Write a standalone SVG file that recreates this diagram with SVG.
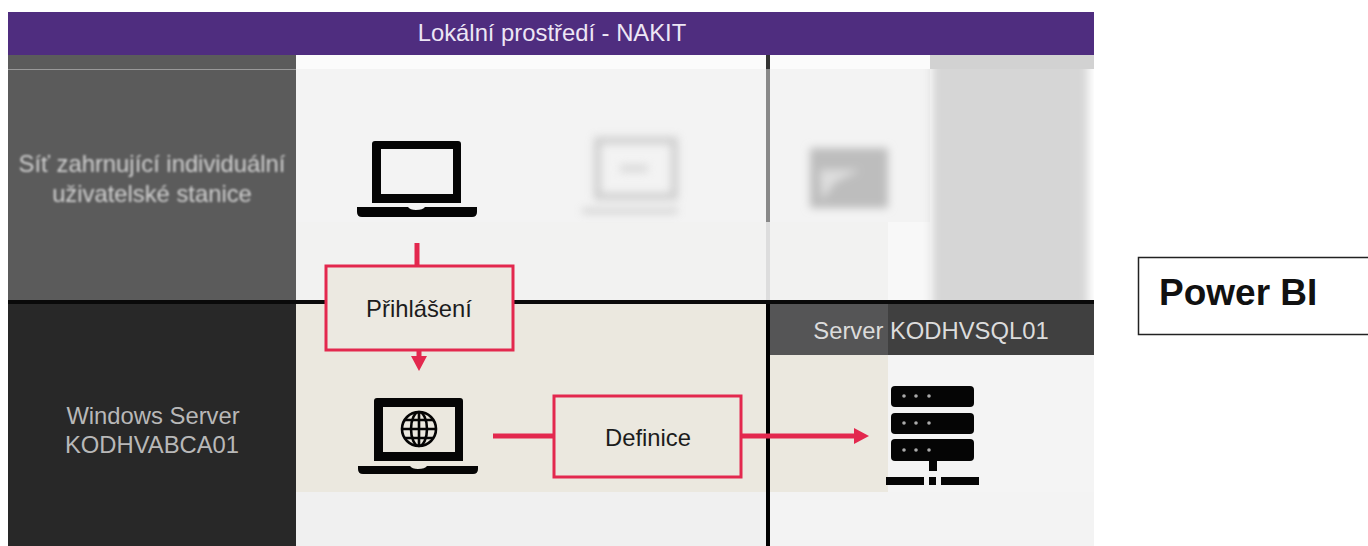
<svg xmlns="http://www.w3.org/2000/svg" width="1368" height="546" viewBox="0 0 1368 546">
<style>
text{font-family:"Liberation Sans",Arial,sans-serif}
.lbl{font-size:23.8px;fill:#1c1c1c;text-anchor:middle}
.rb{fill:#fff;stroke:#e3284e;stroke-width:3}
.wire{stroke:#e3284e;fill:none;stroke-width:5}
.ico{fill:#050505}
.side{font-size:23.8px;text-anchor:middle}
</style>
<defs>
<filter id="b1" x="-20%" y="-20%" width="140%" height="140%"><feGaussianBlur stdDeviation="4"/></filter>
<filter id="b2" x="-10%" y="-10%" width="120%" height="120%"><feGaussianBlur stdDeviation="5"/></filter>
<filter id="b3" x="-10%" y="-20%" width="120%" height="140%"><feGaussianBlur stdDeviation="0.8"/></filter>
<clipPath id="cp"><rect x="900" y="69" width="194" height="231"/></clipPath>
<marker id="ah" markerUnits="userSpaceOnUse" markerWidth="16" markerHeight="18" refX="1" refY="9" orient="auto"><path d="M0 1L15 9L0 17Z" fill="#e3284e"/></marker>
</defs>
<rect width="1368" height="546" fill="#fff"/>

<g id="panels">
<rect x="296" y="55" width="471" height="14" fill="#fbfbfb"/>
<rect x="770" y="55" width="160" height="14" fill="#fbfbfb"/>
<rect x="296" y="69" width="634" height="153" fill="#f3f3f3"/>
<rect x="930" y="55" width="164" height="14" fill="#d2d2d2"/>
<rect x="888" y="222" width="42" height="78" fill="#f8f8f8"/>
<rect x="296" y="222" width="592" height="79" fill="#f2f2f1"/>
<g clip-path="url(#cp)"><rect x="932" y="55" width="156" height="260" fill="#d6d6d6" filter="url(#b2)"/></g>
<rect x="296" y="303" width="471" height="189" fill="#ebe8df"/>
<rect x="770" y="355" width="118" height="137" fill="#ebe8df"/>
<rect x="888" y="355" width="206" height="137" fill="#f4f4f4"/>
<rect x="296" y="492" width="471" height="54" fill="#f0f0f0"/>
<rect x="770" y="492" width="324" height="54" fill="#f3f3f3"/>
</g>

<g id="dividers">
<rect x="766" y="55" width="4" height="14" fill="#333"/>
<rect x="766" y="69" width="4" height="153" fill="#888"/>
<rect x="766" y="222" width="4" height="78" fill="#ddd"/>
<rect x="766" y="300" width="4" height="246" fill="#000"/>
<rect x="8" y="300" width="1086" height="4" fill="#0a0a0a"/>
</g>

<g id="header">
<rect x="8" y="12" width="1086" height="43" fill="#4f2d7f"/>
<text x="552" y="41" font-size="23.8" fill="#ede6f5" text-anchor="middle">Lokální prostředí - NAKIT</text>
</g>

<g id="zone-stations">
<rect x="8" y="55" width="288" height="245" fill="#5b5b5b"/>
<rect x="8" y="69" width="288" height="1" fill="#999"/>
<text class="side" x="152" y="172" fill="#d0d0d0" filter="url(#b3)">Síť zahrnující individuální</text>
<text class="side" x="152" y="202" fill="#d0d0d0" filter="url(#b3)">uživatelské stanice</text>
</g>

<g id="zone-server">
<rect x="8" y="304" width="288" height="242" fill="#282828"/>
<text class="side" x="153" y="424" fill="#b8b8b8">Windows Server</text>
<text class="side" x="152" y="453" fill="#b8b8b8">KODHVABCA01</text>
</g>

<g id="server-header">
<rect x="770" y="304" width="118" height="51" fill="#555556"/>
<rect x="888" y="304" width="206" height="51" fill="#404040"/>
<text x="931" y="339" font-size="23.8" fill="#dcdcdc" text-anchor="middle">Server KODHVSQL01</text>
</g>

<g id="laptop-user">
<path class="ico" fill-rule="evenodd" d="M375 141H458Q461 141 461 144V203H372V144Q372 141 375 141ZM381 149V194H453V149Z"/>
<path class="ico" d="M357 207H408Q410 210 416 210Q423 210 425 207H477V212Q477 217 472 217H362Q357 217 357 212Z"/>
</g>

<g id="laptop-blurred" filter="url(#b1)" opacity="0.8">
<path fill="#c4c4c4" fill-rule="evenodd" d="M594 137H678V200H594ZM601 144V193H671V144Z"/>
<rect x="620" y="165" width="28" height="7" fill="#d0d0d0"/>
<rect x="582" y="209" width="96" height="4" fill="#bbb"/>
</g>

<g id="folder-blurred" filter="url(#b1)">
<path fill="#bdbdbd" d="M810 148H888V208H810Z"/>
<path fill="#dedede" d="M820 170H860L835 182L822 200Z"/>
</g>

<g id="laptop-web">
<path class="ico" fill-rule="evenodd" d="M377 398H460Q463 398 463 401V461H374V401Q374 398 377 398ZM383 407V452H455V407Z"/>
<path class="ico" d="M358 466H410Q412 469 418 469Q425 469 427 466H478V469Q478 474 473 474H363Q358 474 358 469Z"/>
<g fill="none" stroke="#050505" stroke-width="2.6">
<circle cx="419" cy="429" r="17"/>
<ellipse cx="419" cy="429" rx="8" ry="17"/>
<path d="M419 412V446M402 429H436M405 420H433M405 438H433"/>
</g>
</g>

<g id="server-icon">
<rect class="ico" x="891" y="386" width="83" height="21" rx="4"/>
<rect class="ico" x="891" y="413" width="83" height="21" rx="4"/>
<rect class="ico" x="891" y="439" width="83" height="22" rx="4"/>
<g fill="#aaa">
<circle cx="904" cy="396" r="1.8"/><circle cx="916" cy="396" r="1.8"/><circle cx="929" cy="396" r="1.8"/>
<circle cx="904" cy="423" r="1.8"/><circle cx="916" cy="423" r="1.8"/><circle cx="929" cy="423" r="1.8"/>
<circle cx="904" cy="450" r="1.8"/><circle cx="916" cy="450" r="1.8"/><circle cx="929" cy="450" r="1.8"/>
</g>
<rect class="ico" x="929" y="461" width="8" height="10"/>
<rect class="ico" x="886" y="477" width="38" height="8"/>
<rect class="ico" x="929" y="477" width="7" height="8"/>
<rect class="ico" x="941" y="477" width="38" height="8"/>
</g>

<g id="connectors">
<path class="wire" d="M417 243V266"/>
<path class="wire" d="M419 350V357" marker-end="url(#ah)"/>
<path class="wire" d="M493 436H554"/>
<path class="wire" d="M741 436H855" marker-end="url(#ah)"/>
</g>

<g id="node-prihlaseni">
<rect class="rb" x="326" y="266" width="187" height="84" style="fill:#ece9e1"/>
<text class="lbl" x="419" y="317">Přihlášení</text>
</g>

<g id="node-definice">
<rect class="rb" x="554" y="396" width="187" height="81" style="fill:#ebe8df"/>
<text class="lbl" x="648" y="446">Definice</text>
</g>

<g id="node-powerbi">
<rect x="1138.5" y="257.5" width="240" height="77" fill="#fff" stroke="#222" stroke-width="1.5"/>
<text x="1159" y="305" font-size="37" font-weight="700" fill="#111">Power BI</text>
</g>
</svg>
